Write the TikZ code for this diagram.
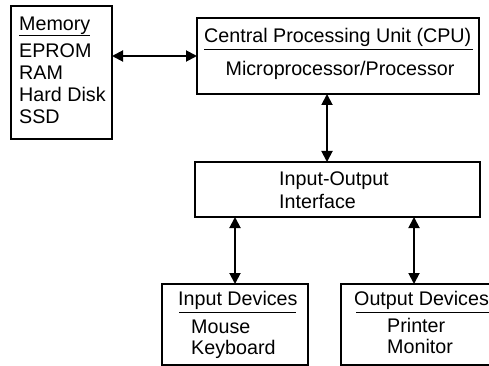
\documentclass[tikz,border=0pt]{standalone}
\usepackage{fontspec}
\setmainfont{Liberation Sans}
\usetikzlibrary{arrows.meta}
\begin{document}
\begin{tikzpicture}[x=1pt,y=-1pt,
  box/.style={draw, line width=1.8pt, inner sep=0pt, outer sep=0pt, anchor=north west},
  link/.style={line width=1.9pt,
    {Triangle[length=11pt,width=11pt]}-{Triangle[length=11pt,width=11pt]}},
  txt/.style={anchor=base west, inner sep=0pt, font=\fontsize{19.7}{22}\selectfont},
  ctxt/.style={txt, anchor=base},
  rulebar/.style={line width=0.9pt}]
\useasboundingbox (0,0) rectangle (489,366);
\clip (0,0) rectangle (489,366);

% blocks
\node[box, minimum width=101, minimum height=133] (mem) at (11,6) {};
\node[box, minimum width=282, minimum height=76]  (cpu) at (197,18) {};
\node[box, minimum width=285, minimum height=55]  (io)  at (195,162) {};
\node[box, minimum width=146, minimum height=81]  (in)  at (162,284) {};
\node[box, minimum width=180, minimum height=81]  (out) at (341,284) {};

% memory
\node[txt] (memt) at (19,31) {Memory};
\draw[rulebar] (memt.base west) ++(0,4) -- ++(71,0);
\node[txt] (m1) at (19,58) {EPROM};
\node[txt] (m2) at (19,80) {RAM};
\node[txt] (m3) at (19,102) {Hard Disk};
\node[txt] (m4) at (19,124) {SSD};

% processor
\node[txt] (cput) at (204,43) {Central Processing Unit (CPU)};
\draw[rulebar] (cput.base west) ++(0,6) -- ++(269,0);
\node[ctxt] (cpu1) at (340,76) {Microprocessor/Processor};

% interface
\node[txt] (io1) at (279,185) {Input-Output};
\node[txt] (io2) at (279,208) {Interface};

% input devices
\node[txt] (int) at (178,305) {Input Devices};
\draw[rulebar] (int.base west) ++(1,7) -- ++(117,0);
\node[txt] (i1) at (191,333) {Mouse};
\node[txt] (i2) at (191,354) {Keyboard};

% output devices
\node[txt] (outt) at (354,305) {Output Devices};
\draw[rulebar] (outt.base west) ++(2,7) -- ++(140,0);
\node[txt] (o1) at (387,332) {Printer};
\node[txt] (o2) at (387,353) {Monitor};

% connections
\coordinate (busA) at (327,0);
\coordinate (busB) at (414,0);
\draw[link] (mem.east |- cpu.west) -- (cpu.west);
\draw[link] (cpu.south -| busA) -- (io.north -| busA);
\draw[link] (io.south -| in.north) -- (in.north);
\draw[link] (io.south -| busB) -- (out.north -| busB);
\end{tikzpicture}
\end{document}
